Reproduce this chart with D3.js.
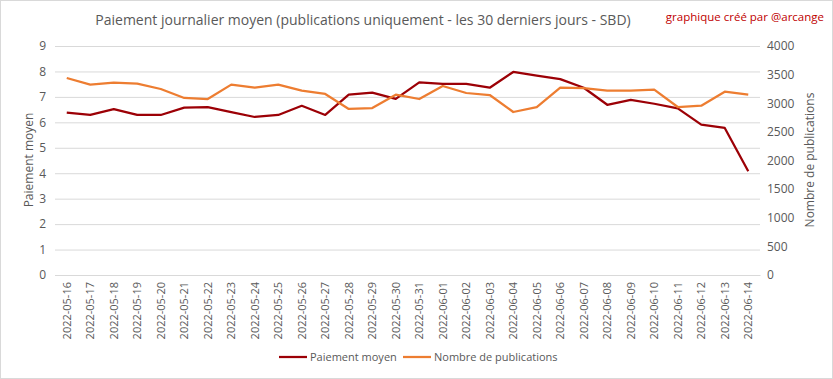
<!DOCTYPE html>
<html><head><meta charset="utf-8">
<script src="https://cdn.jsdelivr.net/npm/d3@7"></script>
<style>body{margin:0;background:#fff}svg{display:block}</style>
</head><body>
<script>
const dates = ["2022-05-16","2022-05-17","2022-05-18","2022-05-19","2022-05-20","2022-05-21","2022-05-22","2022-05-23","2022-05-24","2022-05-25","2022-05-26","2022-05-27","2022-05-28","2022-05-29","2022-05-30","2022-05-31","2022-06-01","2022-06-02","2022-06-03","2022-06-04","2022-06-05","2022-06-06","2022-06-07","2022-06-08","2022-06-09","2022-06-10","2022-06-11","2022-06-12","2022-06-13","2022-06-14"];
const paiement = [6.38,6.29,6.52,6.29,6.29,6.58,6.6,6.4,6.21,6.29,6.65,6.29,7.09,7.17,6.92,7.57,7.51,7.51,7.36,7.98,7.84,7.7,7.36,6.69,6.88,6.73,6.55,5.91,5.78,4.08];
const publications = [3441,3325,3360,3342,3249,3092,3074,3325,3272,3325,3220,3162,2900,2917,3150,3074,3301,3179,3144,2847,2934,3272,3266,3220,3220,3237,2934,2957,3202,3150];
const leftTicks = [0,1,2,3,4,5,6,7,8,9];
const rightTicks = [0,500,1000,1500,2000,2500,3000,3500,4000];

const W = 833, H = 379;
const font = "'Open Sans', 'Noto Sans', sans-serif";
const svg = d3.select("body").append("svg").attr("width", W).attr("height", H);
svg.append("rect").attr("x",0.5).attr("y",0.5).attr("width",W-1).attr("height",H-1).attr("fill","#fff").attr("stroke","#d9d9d9");

const x = d3.scaleBand().domain(dates).range([55, 760]);
const yL = d3.scaleLinear().domain([0, 9]).range([275, 46]);
const yR = d3.scaleLinear().domain([0, 4000]).range([275, 46]);

// gridlines
svg.append("g").selectAll("line").data(leftTicks).join("line")
  .attr("x1", 55).attr("x2", 760)
  .attr("y1", d => yL(d)+0.5).attr("y2", d => yL(d)+0.5)
  .attr("stroke", "#d9d9d9").attr("stroke-width", 1);

// left axis
const gl = svg.append("g").attr("transform","translate(55,0)")
  .call(d3.axisLeft(yL).tickValues(leftTicks).tickSize(0).tickPadding(9));
gl.select(".domain").remove();
gl.selectAll("text").attr("fill","#595959").style("font-family",font).style("font-size","12px");

// right axis
const gr = svg.append("g").attr("transform","translate(760,0)")
  .call(d3.axisRight(yR).tickValues(rightTicks).tickFormat(d3.format("d")).tickSize(0).tickPadding(7));
gr.select(".domain").remove();
gr.selectAll("text").attr("fill","#595959").style("font-family",font).style("font-size","12px");

// x axis
const gx = svg.append("g").attr("transform","translate(0,275)")
  .call(d3.axisBottom(x).tickSize(0).tickPadding(0));
gx.select(".domain").attr("stroke","#d9d9d9");
gx.selectAll("text").attr("fill","#595959").style("font-family",font).style("font-size","11px")
  .attr("text-anchor","end").attr("transform","rotate(-90)").attr("x",-7).attr("y",0).attr("dy","0.35em");

const cx = d => x(d) + x.bandwidth()/2;
svg.append("path").datum(paiement)
  .attr("fill","none").attr("stroke","#9c0006").attr("stroke-width",2.25).attr("stroke-linejoin","round")
  .attr("d", d3.line().x((d,i)=>cx(dates[i])).y(d=>yL(d)));
svg.append("path").datum(publications)
  .attr("fill","none").attr("stroke","#ed7d31").attr("stroke-width",2.25).attr("stroke-linejoin","round")
  .attr("d", d3.line().x((d,i)=>cx(dates[i])).y(d=>yR(d)));

// titles
svg.append("text").attr("x",363).attr("y",25).attr("text-anchor","middle")
  .attr("fill","#595959").style("font-family",font).style("font-size","14px")
  .text("Paiement journalier moyen (publications uniquement  - les 30 derniers jours - SBD)");
svg.append("text").attr("x",824).attr("y",21).attr("text-anchor","end")
  .attr("fill","#c00000").style("font-family",font).style("font-size","11.5px")
  .text("graphique créé par @arcange");

svg.append("text").attr("transform","translate(33,160) rotate(-90)").attr("text-anchor","middle")
  .attr("fill","#595959").style("font-family",font).style("font-size","12px").text("Paiement moyen");
svg.append("text").attr("transform","translate(814,160) rotate(-90)").attr("text-anchor","middle")
  .attr("fill","#595959").style("font-family",font).style("font-size","12px").text("Nombre de publications");

// legend
const leg = [{n:"Paiement moyen",c:"#9c0006",x:279},{n:"Nombre de publications",c:"#ed7d31",x:403}];
const lg = svg.append("g").selectAll("g").data(leg).join("g");
lg.append("line").attr("x1",d=>d.x).attr("x2",d=>d.x+28).attr("y1",357).attr("y2",357)
  .attr("stroke",d=>d.c).attr("stroke-width",2.25);
lg.append("text").attr("x",d=>d.x+31).attr("y",361).attr("fill","#595959")
  .style("font-family",font).style("font-size","11px").text(d=>d.n);
</script>
</body></html>
